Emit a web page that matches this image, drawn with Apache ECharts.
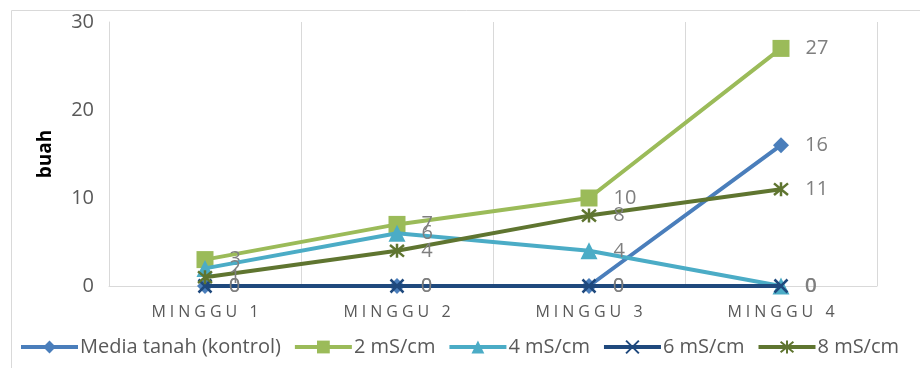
<!DOCTYPE html>
<html>
<head>
<meta charset="utf-8">
<script src="https://cdn.jsdelivr.net/npm/echarts@6/dist/echarts.min.js"></script>
<style>
  html, body { margin: 0; padding: 0; background: #fff; }
  #chart { width: 920px; height: 368px; }
</style>
</head>
<body>
<div id="chart"></div>
<script>
const categories = ['MINGGU 1', 'MINGGU 2', 'MINGGU 3', 'MINGGU 4'];
const seriesNames = ['Media tanah (kontrol)', '2 mS/cm', '4 mS/cm', '6 mS/cm', '8 mS/cm'];
const kontrol = [0, 0, 0, 16];
const ms2 = [3, 7, 10, 27];
const ms4 = [2, 6, 4, 0];
const ms6 = [0, 0, 0, 0];
const ms8 = [1, 4, 8, 11];
const yTicks = [0, 10, 20, 30];

const colors = ['#4a7ebb', '#9bbb59', '#4bacc6', '#1f497d', '#5f7530'];
const symbols = [
  'diamond',
  'rect',
  'triangle',
  'path://M0,0L10,10M10,0L0,10',
  'path://M0,0L10,10M10,0L0,10M5,-1L5,11'
];
const symbolSizes = [16, 17, 17, 13, 14];
const values = [kontrol, ms2, ms4, ms6, ms8];

const chart = echarts.init(document.getElementById('chart'));

const series = values.map((vals, i) => {
  const strokeOnly = i >= 3;
  return {
    name: seriesNames[i],
    type: 'line',
    data: vals,
    symbol: symbols[i],
    symbolSize: symbolSizes[i],
    showAllSymbol: true,
    lineStyle: { color: colors[i], width: 4 },
    itemStyle: strokeOnly
      ? { color: colors[i], borderColor: colors[i], borderWidth: 2.5 }
      : { color: colors[i] },
    label: {
      show: true,
      position: 'right',
      distance: 16,
      color: '#7f7f7f',
      fontSize: 20,
      fontFamily: 'Open Sans'
    },
    z: 2 + i
  };
});

const option = {
  animation: false,
  color: colors,
  graphic: [{
    type: 'rect',
    shape: { x: 11.5, y: 10.5, width: 1000, height: 1000 },
    style: { fill: 'none', stroke: '#d9d9d9', lineWidth: 1 },
    z: -1
  }],
  grid: { left: 109, right: 43, top: 22, bottom: 82 },
  xAxis: {
    type: 'category',
    data: categories,
    boundaryGap: true,
    axisLine: { lineStyle: { color: '#d9d9d9', width: 1 } },
    axisTick: { show: false },
    splitLine: { show: true, lineStyle: { color: '#d9d9d9', width: 1 } },
    axisLabel: {
      color: '#595959',
      fontSize: 16,
      fontFamily: 'Open Sans',
      margin: 18,
      formatter: v => v.split('').join('\u2005')
    }
  },
  yAxis: {
    type: 'value',
    min: yTicks[0],
    max: yTicks[yTicks.length - 1],
    interval: 10,
    name: 'buah',
    nameLocation: 'middle',
    nameGap: 54,
    nameTextStyle: { color: '#000', fontSize: 19, fontWeight: 'bold', fontFamily: 'Open Sans' },
    axisLine: { show: true, lineStyle: { color: '#d9d9d9', width: 1 } },
    axisTick: { show: false },
    splitLine: { show: false },
    axisLabel: { color: '#595959', fontSize: 20, fontFamily: 'Open Sans', margin: 15 }
  },
  legend: {
    data: seriesNames,
    left: 19,
    top: 337,
    padding: 0,
    itemWidth: 57,
    itemHeight: 16,
    itemGap: 12,
    lineStyle: { width: 4 },
    textStyle: { color: '#595959', fontSize: 20, fontFamily: 'Open Sans', padding: [0, 0, 0, -3] }
  },
  series: series
};

chart.setOption(option);
</script>
</body>
</html>
